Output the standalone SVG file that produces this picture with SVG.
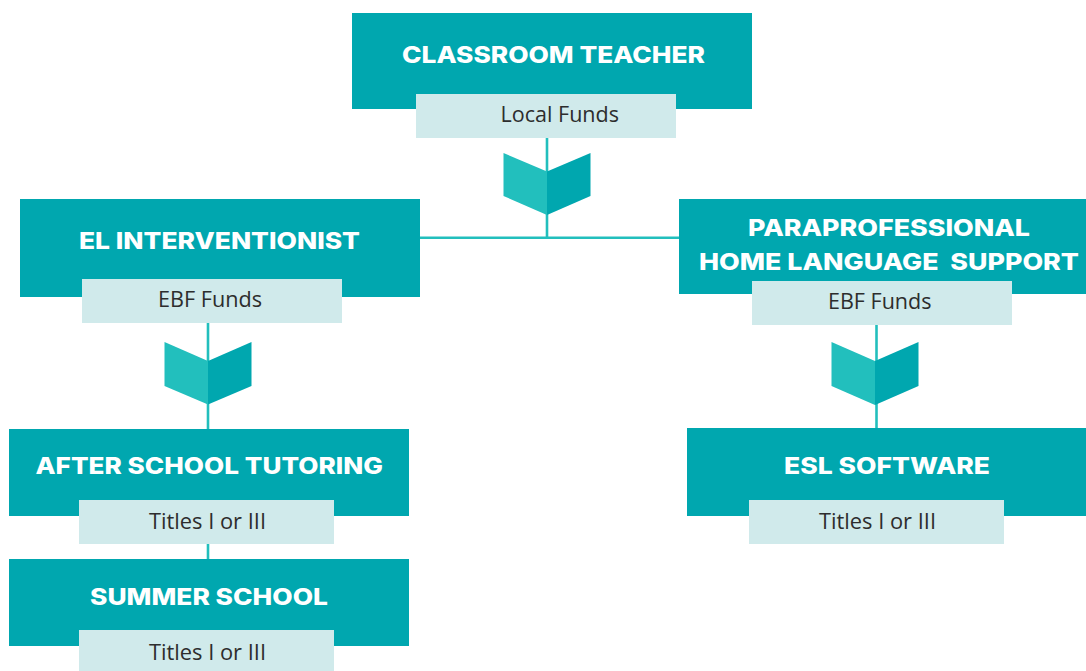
<svg xmlns="http://www.w3.org/2000/svg" width="1086" height="671" viewBox="0 0 1086 671">
<style>
.box{fill:#00a7af}
.sub{fill:#d0eaeb}
.h{font-family:"Inter","Liberation Sans",sans-serif;font-weight:800;font-size:23px;fill:#fff;white-space:pre}
.s{font-family:"Open Sans","Liberation Sans",sans-serif;font-size:22px;fill:#2d2d2d}
.ln{stroke:#22bfbd;stroke-width:2.6;fill:none}
.cl{fill:#22bfbd}
.cr{fill:#00a7af}
</style>
<rect width="1086" height="671" fill="#fff"/>
<g id="connectors">
<path class="ln" d="M547 138V237.700M420 237.700H679"/>
<path class="ln" d="M208 323V429M208 544V559"/>
<path class="ln" d="M876.500 325V428"/>
</g>
<g id="chevrons">
<g id="chevron-1"><path class="cl" d="M503.500 153L547 171.500V215L503.500 196Z"/><path class="cr" d="M590.500 153L547 171.500V215L590.500 196Z"/></g>
<g id="chevron-2"><path class="cl" d="M164.500 342L208 361V404.500L164.500 386Z"/><path class="cr" d="M251.500 342L208 361V404.500L251.500 386Z"/></g>
<g id="chevron-3"><path class="cl" d="M831.500 342L875 361V405L831.500 386Z"/><path class="cr" d="M918.500 342L875 361V405L918.500 386Z"/></g>
</g>
<g id="classroom-teacher">
<rect class="box" x="352" y="13" width="400" height="96"/>
<rect class="sub" x="416" y="94" width="260" height="44"/>
<text class="h" x="402" y="62.500" textLength="303" lengthAdjust="spacingAndGlyphs">CLASSROOM TEACHER</text>
<text class="s" x="500.500" y="122" textLength="118.500" lengthAdjust="spacingAndGlyphs">Local Funds</text>
</g>
<g id="el-interventionist">
<rect class="box" x="20" y="199" width="400" height="98"/>
<rect class="sub" x="82" y="279" width="260" height="44"/>
<text class="h" x="79" y="248.500" textLength="281" lengthAdjust="spacingAndGlyphs">EL INTERVENTIONIST</text>
<text class="s" x="158" y="307" textLength="104" lengthAdjust="spacingAndGlyphs">EBF Funds</text>
</g>
<g id="paraprofessional">
<rect class="box" x="679" y="199" width="407" height="95"/>
<rect class="sub" x="752" y="281" width="260" height="44"/>
<text class="h" x="748" y="236" textLength="282" lengthAdjust="spacingAndGlyphs">PARAPROFESSIONAL</text>
<text class="h" x="699" y="270" textLength="380" lengthAdjust="spacingAndGlyphs">HOME LANGUAGE  SUPPORT</text>
<text class="s" x="828" y="309" textLength="103.500" lengthAdjust="spacingAndGlyphs">EBF Funds</text>
</g>
<g id="after-school-tutoring">
<rect class="box" x="9" y="429" width="400" height="87"/>
<rect class="sub" x="79" y="500" width="255" height="44"/>
<text class="h" x="35.500" y="474" textLength="347.500" lengthAdjust="spacingAndGlyphs">AFTER SCHOOL TUTORING</text>
<text class="s" x="149" y="529" textLength="117" lengthAdjust="spacingAndGlyphs">Titles I or III</text>
</g>
<g id="summer-school">
<rect class="box" x="9" y="559" width="400" height="87"/>
<rect class="sub" x="79" y="630" width="255" height="41"/>
<text class="h" x="90" y="605" textLength="238" lengthAdjust="spacingAndGlyphs">SUMMER SCHOOL</text>
<text class="s" x="149" y="660" textLength="117" lengthAdjust="spacingAndGlyphs">Titles I or III</text>
</g>
<g id="esl-software">
<rect class="box" x="687" y="428" width="399" height="88"/>
<rect class="sub" x="749" y="500" width="255" height="44"/>
<text class="h" x="784" y="474" textLength="206" lengthAdjust="spacingAndGlyphs">ESL SOFTWARE</text>
<text class="s" x="819" y="529" textLength="117" lengthAdjust="spacingAndGlyphs">Titles I or III</text>
</g>
</svg>
